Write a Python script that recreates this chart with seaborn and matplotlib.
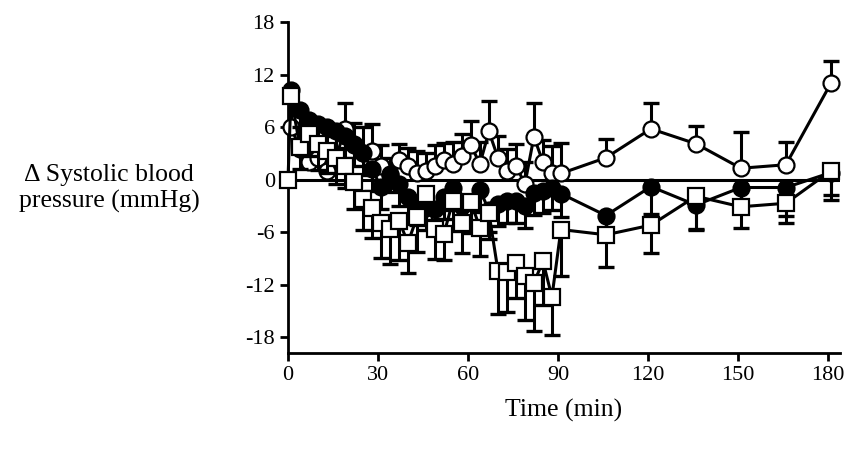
import numpy as np
import pandas as pd
import matplotlib
matplotlib.use("Agg")
import matplotlib.pyplot as plt
import seaborn as sns

# -----------------------------
# Data
# -----------------------------
dense_t = list(range(1, 92, 3))
late_t = [106, 121, 136, 151, 166, 181]
time_min = dense_t + late_t

open_circle = [6.0, 3.5, 2.0, 2.5, 1.0, 2.5, 5.8, 4.0, 3.0, 3.3, 1.5,
               0.5, 2.2, 1.6, 0.8, 1.0, 1.5, 2.2, 1.8, 2.7, 3.9, 1.8,
               5.5, 2.5, 1.0, 1.6, -0.5, 4.9, 2.0, 0.8, 0.7,
               2.5, 5.8, 4.1, 1.3, 1.7, 11.0]
open_circle_err = [2.0, 2.5, 2.0, 3.0, 2.8, 2.5, 2.9, 2.5, 3.0, 3.1, 2.5,
                   2.0, 1.9, 2.0, 2.5, 2.0, 2.5, 2.0, 2.5, 2.5, 2.8, 2.5,
                   3.5, 2.5, 2.5, 2.5, 2.5, 3.9, 2.5, 3.0, 3.5,
                   2.1, 3.0, 2.0, 4.1, 2.6, 2.5]

filled_circle = [10.2, 8.0, 6.8, 6.4, 6.0, 5.6, 5.0, 4.1, 3.0, 1.2, -0.8,
                 0.6, -0.5, -2.0, -2.7, -3.2, -3.4, -2.0, -1.0, -3.0, -2.5, -1.2,
                 -3.5, -2.8, -2.4, -2.4, -3.0, -1.5, -1.3, -1.0, -1.6,
                 -4.1, -0.8, -2.9, -0.9, -0.9, 0.8]
filled_circle_err = [2.0, 2.0, 2.5, 2.0, 2.5, 2.0, 2.5, 2.5, 2.5, 2.5, 2.5,
                     2.0, 2.5, 2.5, 2.5, 2.5, 2.5, 2.5, 2.5, 2.5, 2.5, 2.5,
                     2.5, 2.5, 2.5, 2.5, 2.5, 2.5, 2.5, 2.5, 2.7,
                     1.5, 3.1, 2.7, 2.4, 3.2, 2.5]

square_t = [0] + time_min
square = [0.0, 9.5, 3.7, 5.2, 4.1, 3.3, 2.5, 1.6, -0.3, -2.2, -3.2, -4.9,
          -5.6, -4.7, -7.2, -4.3, -1.6, -5.6, -6.2, -2.4, -4.9, -2.6, -5.5,
          -3.8, -10.4, -10.6, -9.5, -11.0, -11.8, -9.3, -13.4, -5.7,
          -6.3, -5.2, -1.9, -3.1, -2.7, 1.0]
square_err = [0.0, 2.0, 2.5, 2.5, 3.0, 2.5, 3.0, 2.5, 3.0, 3.5, 3.5, 4.0,
              4.0, 4.5, 3.5, 4.0, 3.0, 3.5, 3.0, 3.5, 3.5, 3.5, 3.2,
              3.0, 4.9, 4.5, 4.0, 5.0, 5.5, 5.0, 4.4, 5.3,
              3.7, 3.2, 3.8, 2.4, 2.3, 3.3]

# -----------------------------
# Plot
# -----------------------------
sns.set_style("ticks")
plt.rcParams['font.family'] = ['Liberation Serif', 'DejaVu Serif']
plt.rcParams['axes.unicode_minus'] = False
plt.rcParams['text.color'] = 'black'
plt.rcParams['xtick.color'] = 'black'
plt.rcParams['ytick.color'] = 'black'
plt.rcParams['axes.labelcolor'] = 'black'
plt.rcParams['axes.edgecolor'] = 'black'

fig = plt.figure(figsize=(8.53, 4.54), dpi=100)
ax = fig.add_axes([0.3376, 0.2225, 0.647, 0.729])

ax.axhline(0, color='black', lw=2.2, zorder=1)

series = [
    (time_min, open_circle, open_circle_err, 'o', 'white', 1),
    (time_min, filled_circle, filled_circle_err, 'o', 'black', -1),
    (square_t, square, square_err, 's', 'white', -1),
]

z = 2
for t, y, e, mk, fc, direction in series:
    e = np.array(e)
    zeros = np.zeros_like(e)
    yerr = [zeros, e] if direction > 0 else [e, zeros]
    ax.errorbar(t, y, yerr=yerr, fmt='none', ecolor='black', elinewidth=2.2,
                capsize=5.5, capthick=2.4, zorder=z)
    df = pd.DataFrame({'t': t, 'y': y})
    sns.lineplot(data=df, x='t', y='y', ax=ax, color='black', lw=2.2,
                 marker=mk, markersize=11.5, markerfacecolor=fc,
                 markeredgecolor='black', markeredgewidth=1.6, zorder=z + 1,
                 clip_on=False)
    z += 2

ax.set_xlim(0, 184)
ax.set_ylim(-19.8, 18)
ax.set_xticks(range(0, 181, 30))
ax.set_yticks(range(-18, 19, 6))
ax.tick_params(labelsize=16, width=2, length=6, direction='out')
for side in ['left', 'bottom']:
    ax.spines[side].set_linewidth(2)
sns.despine(ax=ax)
ax.set_xlabel("Time (min)", fontsize=18.5, labelpad=10)
ax.set_ylabel("")
fig.text(0.128, 0.585, "\u0394 Systolic blood\npressure (mmHg)", ha='center',
         va='center', fontsize=18.5, linespacing=1.2)

fig.savefig("out.png", dpi=100)
